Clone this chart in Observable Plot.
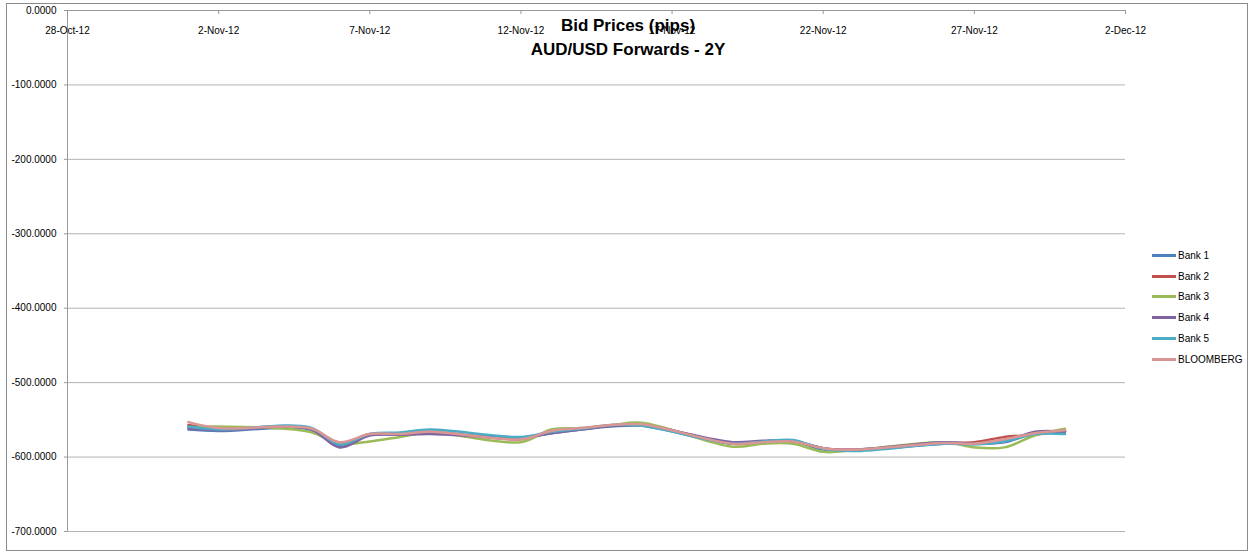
<!DOCTYPE html>
<html><head><meta charset="utf-8">
<script src="https://cdn.jsdelivr.net/npm/d3@7"></script>
<script src="https://cdn.jsdelivr.net/npm/@observablehq/plot@0.6"></script>
<style>
body{margin:0;background:#fff;}
#wrap{position:relative;width:1254px;height:552px;font-family:"Liberation Sans",Arial,sans-serif;overflow:hidden;}
#chart{position:absolute;left:0;top:0;}
#frame{position:absolute;left:6px;top:3px;width:1242px;height:548px;border:1px solid #8c8c8c;box-sizing:border-box;pointer-events:none;}
#title{position:absolute;left:378px;width:500px;top:14px;text-align:center;font-weight:bold;font-size:17px;line-height:24px;color:#000;}
#legend{position:absolute;left:1152px;top:245px;font-size:10px;}
.row{height:20.8px;display:flex;align-items:center;}
.sw{width:24px;height:3px;margin-right:2px;}
</style></head>
<body>
<div id="wrap">
  <div id="chart"></div>
  <div id="title">Bid Prices (pips)<br>AUD/USD Forwards - 2Y</div>
  <div id="legend"></div>
  <div id="frame"></div>
</div>
<script>
const dates = ["2012-11-01","2012-11-02","2012-11-05","2012-11-06","2012-11-07","2012-11-08","2012-11-09",
  "2012-11-12","2012-11-13","2012-11-14","2012-11-15","2012-11-16","2012-11-19","2012-11-20","2012-11-21",
  "2012-11-22","2012-11-23","2012-11-26","2012-11-27","2012-11-28","2012-11-29","2012-11-30"];
const seriesNames = ["Bank 1","Bank 2","Bank 3","Bank 4","Bank 5","BLOOMBERG"];
const seriesColors = ["#4F81BD","#C0504D","#9BBB59","#8064A2","#4BACC6","#DA9694"];
const bank1 = [-563,-565,-563,-585,-570,-570,-568,-574,-568,-563,-559,-558,-582,-579,-578,-590,-591,-582,-582,-580,-568,-566];
const bank2 = [-557,-562,-561,-582,-569,-569,-566,-576,-566,-562,-558,-556,-582,-580,-579,-588,-590,-581,-580,-573,-570,-565];
const bank3 = [-560,-559,-566,-582,-579,-573,-567,-580,-563,-561,-557,-554,-586,-582,-582,-593,-591,-580,-587,-587,-571,-562];
const bank4 = [-562,-564,-562,-587,-571,-570,-569,-574,-568,-563,-558,-557,-580,-578,-578,-588,-590,-580,-582,-579,-566,-566];
const bank5 = [-559,-563,-560,-583,-569,-567,-563,-573,-566,-562,-557,-558,-582,-579,-577,-589,-592,-582,-583,-579,-569,-569];
const bloomberg = [-553,-561,-561,-580,-569,-569,-566,-576,-565,-561,-557,-556,-582,-580,-579,-588,-590,-581,-582,-576,-568,-564];
const yTicks = [0,-100,-200,-300,-400,-500,-600,-700];
const xTickDates = ["2012-10-28","2012-11-02","2012-11-07","2012-11-12","2012-11-17","2012-11-22","2012-11-27","2012-12-02"];
const xTickLabels = ["28-Oct-12","2-Nov-12","7-Nov-12","12-Nov-12","17-Nov-12","22-Nov-12","27-Nov-12","2-Dec-12"];

const parse = d3.utcParse("%Y-%m-%d");
const allSeries = [bank1,bank2,bank3,bank4,bank5,bloomberg];
const tidy = [];
allSeries.forEach((vals,si)=>vals.forEach((v,i)=>tidy.push({series:seriesNames[si],date:parse(dates[i]),value:v})));
const tickDates = xTickDates.map(parse);
const xDomain = [tickDates[0], tickDates[tickDates.length-1]];

const H = 552, mT = 10, mB = 21;
const chart = Plot.plot({
  width:1254, height:H, marginLeft:67, marginRight:129, marginTop:mT, marginBottom:mB,
  x:{type:"utc", domain:xDomain, axis:null},
  y:{domain:[-700,0], axis:null},
  color:{domain:seriesNames, range:seriesColors},
  style:{fontFamily:"Liberation Sans, Arial, sans-serif", fontSize:"10px", background:"transparent", color:"#000"},
  marks:[
    Plot.gridY(yTicks,{stroke:"#b3b3b3", strokeOpacity:1}),
    Plot.axisY(yTicks,{tickFormat:d=>d.toFixed(4), label:null, tickSize:3, tickPadding:8, stroke:"#999", fill:"#000", fontSize:10}),
    Plot.ruleX([xDomain[0]],{stroke:"#999"}),
    Plot.ruleY([0],{stroke:"#999"}),
    Plot.tickX(tickDates,{x:d=>d, insetBottom:H-mT-mB-4, stroke:"#999"}),
    Plot.text(tickDates,{x:d=>d, text:(d,i)=>xTickLabels[i], frameAnchor:"top", dy:16, fontSize:10, fill:"#000"}),
    Plot.line(tidy,{x:"date", y:"value", z:"series", stroke:"series", curve:"catmull-rom", strokeWidth:2.5})
  ]
});
document.getElementById("chart").appendChild(chart);

const legend = document.getElementById("legend");
seriesNames.forEach((n,i)=>{
  const r = document.createElement("div"); r.className="row";
  const s = document.createElement("div"); s.className="sw"; s.style.background=seriesColors[i];
  const t = document.createElement("span"); t.textContent=n;
  r.appendChild(s); r.appendChild(t); legend.appendChild(r);
});
</script>
</body></html>
